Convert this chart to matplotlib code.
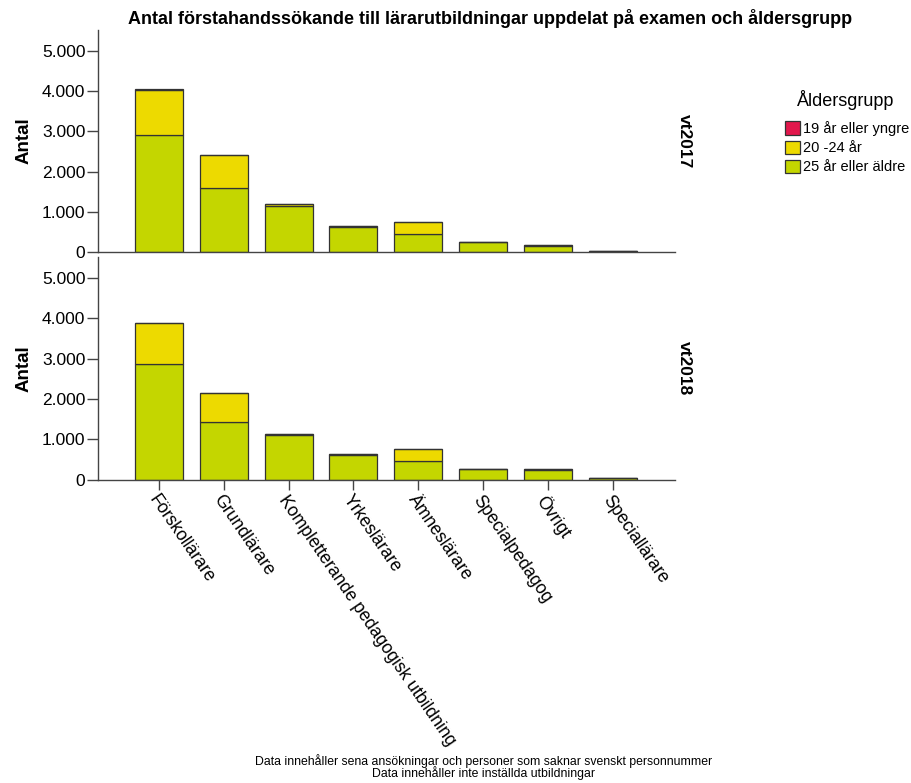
import matplotlib
matplotlib.use("Agg")
import matplotlib.pyplot as plt
from matplotlib.ticker import FuncFormatter, FixedLocator
from matplotlib.patches import Patch
import numpy as np

plt.rcParams['font.family'] = ['Liberation Sans', 'DejaVu Sans']

categories = ["Förskollärare", "Grundlärare", "Kompletterande pedagogisk utbildning",
              "Yrkeslärare", "Ämneslärare", "Specialpedagog", "Övrigt", "Speciallärare"]
terms = ["vt2017", "vt2018"]
age_groups = ["19 år eller yngre", "20 -24 år", "25 år eller äldre"]

# values per term: 25+ (bottom), 20-24 (middle), 19- (top)
old_2017 = [2910, 1600, 1150, 620, 440, 240, 160, 25]
mid_2017 = [1130, 810, 40, 30, 300, 15, 20, 5]
young_2017 = [3, 2, 0, 0, 1, 0, 0, 0]

old_2018 = [2870, 1420, 1105, 605, 450, 250, 245, 28]
mid_2018 = [1020, 725, 30, 40, 300, 8, 12, 5]
young_2018 = [3, 2, 0, 0, 1, 0, 0, 0]

y_ticks = [0, 1000, 2000, 3000, 4000, 5000]

colors = {"19 år eller yngre": "#E2174C", "20 -24 år": "#EDDA00", "25 år eller äldre": "#C4D600"}
edge = "#333333"

fig = plt.figure(figsize=(9.11, 7.83), dpi=100)
left, width = 98 / 911, (675 - 98) / 911
ax1 = fig.add_axes([left, 1 - 252 / 783, width, (252 - 30) / 783])
ax2 = fig.add_axes([left, 1 - 479.5 / 783, width, (479.5 - 257) / 783])

data = [(old_2017, mid_2017, young_2017), (old_2018, mid_2018, young_2018)]
x = np.arange(len(categories))
fmt = FuncFormatter(lambda v, p: f"{int(v):,}".replace(",", "."))

for ax, (old, mid, young), term in zip([ax1, ax2], data, terms):
    old = np.array(old); mid = np.array(mid); young = np.array(young)
    ax.bar(x, old, width=0.74, color=colors["25 år eller äldre"], edgecolor=edge, linewidth=0.9, zorder=2)
    ax.bar(x, mid, bottom=old, width=0.74, color=colors["20 -24 år"], edgecolor=edge, linewidth=0.9, zorder=2)
    ax.bar(x, young, bottom=old + mid, width=0.74, color=colors["19 år eller yngre"], edgecolor=edge, linewidth=0.9, zorder=2)
    ax.set_xlim(-0.94, 7.96)
    ax.set_ylim(0, 5520)
    ax.yaxis.set_major_locator(FixedLocator(y_ticks))
    ax.yaxis.set_major_formatter(fmt)
    for s in ["top", "right"]:
        ax.spines[s].set_visible(False)
    for s in ["left", "bottom"]:
        ax.spines[s].set_color("#444444")
        ax.spines[s].set_linewidth(1.0)
    ax.tick_params(axis="y", length=8, width=1.0, color="#444444", labelsize=12.5, pad=1, labelcolor="#000000")
    ax.set_ylabel("Antal", fontsize=13.5, fontweight="bold", labelpad=7)
    ax.text(1.004, 0.5, term, transform=ax.transAxes, rotation=-90,
            ha="left", va="center", fontsize=12.5, fontweight="bold")

ax1.set_xticks([])
ax1.tick_params(axis="x", length=0)
ax2.set_xticks(x)
ax2.set_xticklabels(categories, rotation=-55.5, ha="left", va="top", rotation_mode="anchor", fontsize=12.7)
ax2.tick_params(axis="x", length=7, width=1.0, color="#444444", pad=2)

fig.text(490 / 911, 1 - 18 / 783, "Antal förstahandssökande till lärarutbildningar uppdelat på examen och åldersgrupp",
         ha="center", va="center", fontsize=13, fontweight="bold")

handles = [Patch(facecolor=colors[g], edgecolor=edge, linewidth=0.9) for g in age_groups]
fig.legend(handles, age_groups, loc="upper left", bbox_to_anchor=(785 / 911, 1 - 121 / 783),
           frameon=False, fontsize=10.5,
           handlelength=1.0, handleheight=1.0, handletextpad=0.25, labelspacing=0.32,
           borderaxespad=0, borderpad=0)
fig.text(846 / 911, 1 - 100 / 783, "Åldersgrupp", ha="center", va="center", fontsize=13)

fig.text(484 / 911, 1 - 767.5 / 783,
         "Data innehåller sena ansökningar och personer som saknar svenskt personnummer\n"
         "Data innehåller inte inställda utbildningar",
         ha="center", va="center", multialignment="center", fontsize=8.8, linespacing=0.82)

fig.savefig("out.png", dpi=100)
